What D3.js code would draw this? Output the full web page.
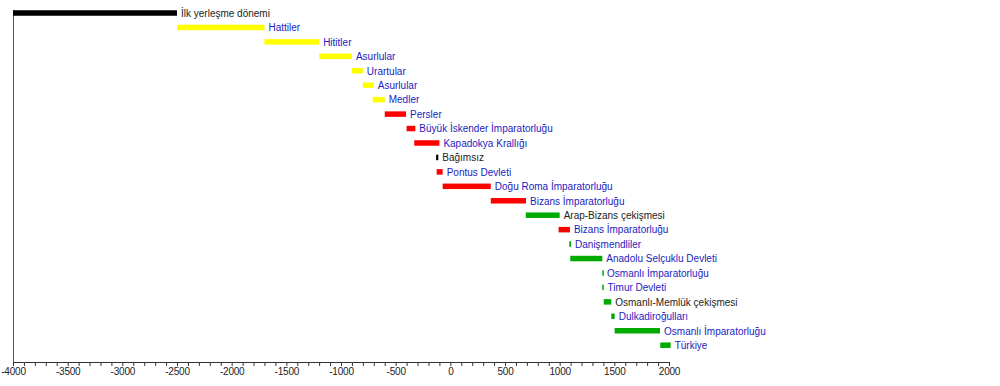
<!DOCTYPE html>
<html><head><meta charset="utf-8">
<script src="https://cdn.jsdelivr.net/npm/d3@7"></script>
<style>body{margin:0;background:#fff;}svg{display:block;font-family:"Liberation Sans",Arial,sans-serif;}</style>
</head><body><svg id="c" width="1000" height="386"></svg>
<script>
const labels = ["İlk yerleşme dönemi","Hattiler","Hititler","Asurlular","Urartular","Asurlular","Medler","Persler","Büyük İskender İmparatorluğu","Kapadokya Krallığı","Bağımsız","Pontus Devleti","Doğu Roma İmparatorluğu","Bizans İmparatorluğu","Arap-Bizans çekişmesi","Bizans İmparatorluğu","Danişmendliler","Anadolu Selçuklu Devleti","Osmanlı İmparatorluğu","Timur Devleti","Osmanlı-Memlük çekişmesi","Dulkadiroğulları","Osmanlı İmparatorluğu","Türkiye"];
const starts = [-4000,-2500,-1700,-1200,-900,-800,-710,-600,-400,-330,-130,-125,-70,370,690,990,1088,1097,1390,1390,1403,1472,1503,1920];
const ends   = [-2500,-1700,-1200,-900,-800,-700,-600,-405,-320,-100,-110,-70,370,692,1000,1094,1104,1390,1397,1402,1472,1503,1918,2015];
const groups = ["pre","yel","yel","yel","yel","yel","yel","red","red","red","ind","red","red","red","grn","red","grn","grn","grn","grn","grn","grn","grn","grn"];
const linked = [0,1,1,1,1,1,1,1,1,1,0,1,1,1,0,1,1,1,1,1,0,1,1,1];
const tickValues = [-4000,-3500,-3000,-2500,-2000,-1500,-1000,-500,0,500,1000,1500,2000];

const colors = {pre:"#000000", yel:"#ffff00", red:"#ff0000", ind:"#000000", grn:"#00aa00"};
const svg = d3.select("#c");
const x = d3.scaleLinear().domain([-4000,2000]).range([13,669]);
const y = d3.scalePoint().domain(d3.range(labels.length)).range([13,345.2]);
const barH = 5.5;

// left vertical axis line
svg.append("line").attr("x1",13.5).attr("x2",13.5).attr("y1",10).attr("y2",362)
  .attr("stroke","#555").attr("stroke-width",1);

// bottom axis
const minor = d3.range(-4000,2001,100);
const axis = d3.axisBottom(x).tickValues(minor).tickSize(4)
  .tickFormat(d => tickValues.includes(d) ? d : "");
const ag = svg.append("g").attr("transform","translate(0,362)").call(axis);
ag.select(".domain").attr("stroke","#333").attr("d","M13,0.5H669");
ag.selectAll(".tick line").attr("stroke","#333");
ag.selectAll(".tick text").attr("font-size",10).attr("fill","#222").attr("dy","0.55em")
  .attr("font-family","'Liberation Sans',Arial,sans-serif").attr("letter-spacing","-0.2px");

// bars
const idx = d3.range(labels.length);
svg.selectAll("rect.bar").data(idx).join("rect").attr("class","bar")
  .attr("x", i => x(starts[i]))
  .attr("width", i => Math.max(1.5, x(ends[i]) - x(starts[i])))
  .attr("y", i => y(i) - barH/2)
  .attr("height", barH)
  .attr("fill", i => colors[groups[i]]);

// labels
svg.selectAll("text.lab").data(idx).join("text").attr("class","lab")
  .attr("x", i => x(ends[i]) + 4)
  .attr("y", i => y(i) + 3.8)
  .attr("font-size",10)
  .attr("fill", i => linked[i] ? "#1c1cc0" : "#222")
  .text(i => labels[i]);
</script></body></html>
